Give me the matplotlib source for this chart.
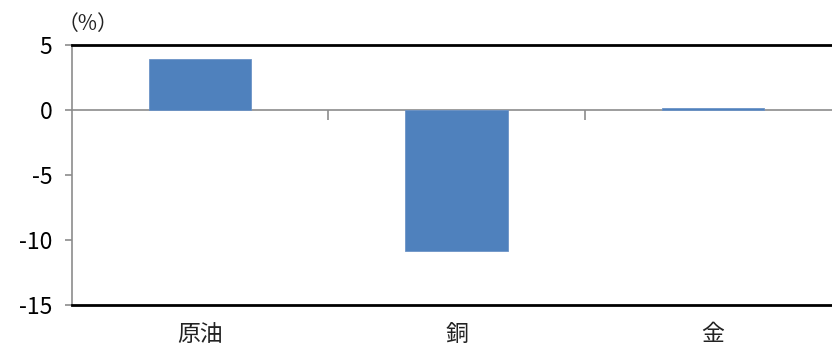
import matplotlib
matplotlib.use("Agg")
import matplotlib.pyplot as plt
import matplotlib.transforms as mtransforms

plt.rcParams['font.family'] = ['Noto Sans CJK JP', 'DejaVu Sans']

# commodity price change (%)
categories = ['原油', '銅', '金']
changes = [3.9, -10.85, 0.15]
yticks = [5, 0, -5, -10, -15]

fig = plt.figure(figsize=(8.32, 3.49), dpi=100)
# axes runs off the right edge, like the cropped original
ax = fig.add_axes([72 / 832, 1 - 305 / 349, (841 - 72) / 832, (305 - 45) / 349])

x = list(range(len(categories)))
ax.bar(x, changes, width=0.4, color='#4F81BD', edgecolor='#6C93C7', linewidth=0.6, zorder=3)

ax.set_xlim(-0.5, 2.5)
ax.set_ylim(-15, 5)

# frame: grey left axis, horizontal axis on zero, black top and bottom lines
for s in ['top', 'right']:
    ax.spines[s].set_visible(False)
ax.spines['left'].set_color('#8C8C8C')
ax.spines['left'].set_linewidth(1.2)
ax.spines['bottom'].set_position(('data', 0))
ax.spines['bottom'].set_color('#8C8C8C')
ax.spines['bottom'].set_linewidth(1.2)
ax.axhline(5, color='black', linewidth=2, zorder=4, clip_on=False)
ax.axhline(-15, color='black', linewidth=2, zorder=4, clip_on=False)

ax.set_yticks(yticks)
ax.set_yticklabels([str(v) for v in yticks], fontsize=16.5)
ax.tick_params(axis='y', direction='out', length=5, color='#8C8C8C', width=1.2, pad=9)

ax.set_xticks([0.5, 1.5])
ax.set_xticklabels([])
ax.tick_params(axis='x', direction='out', length=7, color='#8C8C8C', width=1.2)

# category labels sit below the plot area
trans = mtransforms.blended_transform_factory(ax.transData, ax.transAxes)
for i, name in zip(x, categories):
    ax.annotate(name, xy=(i, 0), xycoords=trans, xytext=(0, -13), textcoords='offset points',
                ha='center', va='top', fontsize=16.5, color='#222222', annotation_clip=False)

fig.text(58 / 832, 1 - 24 / 349, '（%）', fontsize=15, ha='left', va='center', color='#222222')

fig.savefig('out.png', dpi=100)
